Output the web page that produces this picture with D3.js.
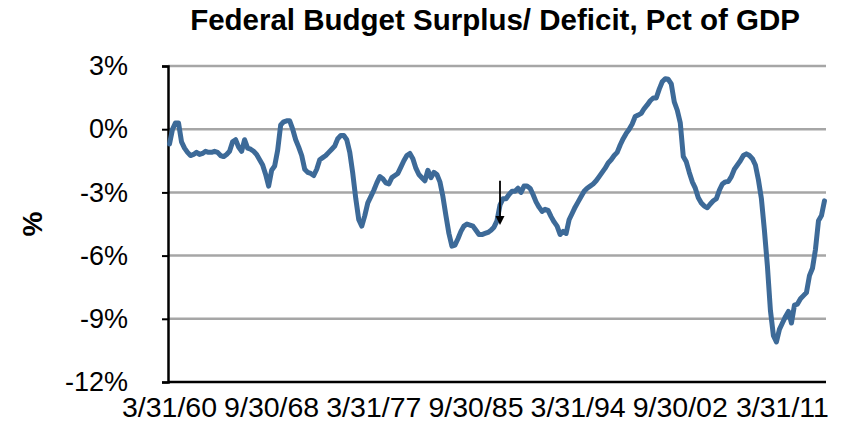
<!DOCTYPE html>
<html><head><meta charset="utf-8">
<script src="https://cdn.jsdelivr.net/npm/d3@7"></script>
<style>
html,body{margin:0;padding:0;background:#fff;}
svg{display:block;font-family:"Liberation Sans",Arial,sans-serif;}
</style></head>
<body><svg id="c" width="859" height="424"></svg>
<script>
// Quarterly federal budget surplus/deficit, % of GDP, 1960Q1 .. 2014Q3
const deficitPct = [
-0.7,0.0,0.3,0.3,-0.6,-0.9,-1.1,-1.25,-1.2,-1.1,
-1.2,-1.15,-1.05,-1.1,-1.1,-1.05,-1.1,-1.25,-1.3,-1.2,
-1.05,-0.6,-0.5,-0.85,-1.05,-0.5,-0.9,-0.95,-1.05,-1.2,
-1.45,-1.7,-2.15,-2.7,-1.95,-1.75,-1.0,0.2,0.35,0.4,
0.4,0.0,-0.5,-0.85,-1.25,-1.9,-2.05,-2.1,-2.2,-1.9,
-1.45,-1.35,-1.25,-1.1,-0.95,-0.8,-0.45,-0.3,-0.3,-0.5,
-1.1,-2.1,-3.3,-4.3,-4.6,-4.1,-3.5,-3.2,-2.9,-2.55,
-2.25,-2.35,-2.55,-2.6,-2.3,-2.2,-2.1,-1.8,-1.5,-1.25,
-1.15,-1.4,-1.85,-2.15,-2.3,-2.45,-1.95,-2.3,-2.05,-2.15,
-2.5,-3.2,-4.1,-4.95,-5.55,-5.5,-5.2,-4.85,-4.6,-4.5,
-4.55,-4.6,-4.8,-5.0,-5.0,-4.95,-4.9,-4.8,-4.65,-4.35,
-3.6,-3.3,-3.3,-3.1,-2.95,-2.95,-2.8,-3.0,-2.7,-2.7,
-2.8,-3.1,-3.45,-3.7,-3.9,-3.8,-3.85,-4.15,-4.4,-4.6,
-5.0,-4.85,-4.95,-4.3,-4.0,-3.7,-3.45,-3.2,-2.95,-2.8,
-2.7,-2.6,-2.45,-2.25,-2.05,-1.85,-1.6,-1.45,-1.25,-1.1,
-0.75,-0.45,-0.2,0.0,0.25,0.6,0.67,0.75,0.98,1.15,
1.35,1.48,1.48,1.9,2.25,2.4,2.37,2.15,1.3,0.9,
0.3,-1.3,-1.55,-2.05,-2.5,-2.8,-3.25,-3.5,-3.65,-3.73,
-3.55,-3.4,-3.3,-2.9,-2.6,-2.5,-2.48,-2.25,-1.9,-1.7,
-1.5,-1.25,-1.17,-1.25,-1.4,-1.7,-2.4,-3.3,-4.8,-6.5,
-8.6,-9.8,-10.1,-9.5,-9.2,-8.9,-8.65,-9.2,-8.35,-8.3,
-8.05,-7.9,-7.75,-6.95,-6.6,-5.7,-4.35,-4.1,-3.4
];
const xTickIndex = [0,34,68,102,136,170,204];
const xTickLabels = ["3/31/60","9/30/68","3/31/77","9/30/85","3/31/94","9/30/02","3/31/11"];
const yTicks = [3,0,-3,-6,-9,-12];
const arrowIndex = 110;
const arrowFrom = -2.45, arrowTo = -4.55;
const titleText = "Federal Budget Surplus/ Deficit, Pct of GDP";
const yTitle = "%";

(function(){
const svg = d3.select("#c");
const L = 168, R = 826, T = 66, B = 382;

const x = d3.scalePoint().domain(d3.range(deficitPct.length)).range([L, R]).padding(0.5);
const y = d3.scaleLinear().domain([-12, 3]).range([B, T]);

// gridlines
svg.append("g").selectAll("line").data(yTicks.filter(d => d > -12)).join("line")
  .attr("x1", L).attr("x2", R)
  .attr("y1", d => y(d)).attr("y2", d => y(d))
  .attr("stroke", "#a6a6a6").attr("stroke-width", 2.5);

// y axis
const yAxis = svg.append("g").attr("transform", `translate(${L},0)`)
  .call(d3.axisLeft(y).tickValues(yTicks).tickFormat(d => d + "%").tickSize(6).tickPadding(34));
yAxis.select(".domain").attr("stroke", "#000").attr("stroke-width", 2.5);
yAxis.selectAll(".tick line").attr("stroke", "#000").attr("stroke-width", 2);
yAxis.selectAll(".tick text").attr("font-size", 27).attr("fill", "#000")
  .attr("font-family", "'Liberation Sans',Arial,sans-serif");

// x axis baseline
svg.append("line").attr("x1", L).attr("x2", R).attr("y1", y(-12)).attr("y2", y(-12))
  .attr("stroke", "#000").attr("stroke-width", 2.5);

// x labels
svg.append("g").selectAll("text").data(xTickIndex).join("text")
  .attr("x", d => x(d)).attr("y", 417)
  .attr("text-anchor", "middle").attr("font-size", 28.5).attr("fill", "#000")
  .text((d, i) => xTickLabels[i]);

// line
svg.append("path").datum(deficitPct)
  .attr("fill", "none").attr("stroke", "#3d6a98").attr("stroke-width", 5)
  .attr("stroke-linejoin", "round").attr("stroke-linecap", "round")
  .attr("d", d3.line().x((d, i) => x(i)).y(d => y(d)));

// arrow annotation
const ax = x(arrowIndex);
svg.append("line").attr("x1", ax).attr("x2", ax)
  .attr("y1", y(arrowFrom)).attr("y2", y(arrowTo) - 8)
  .attr("stroke", "#000").attr("stroke-width", 1.8);
svg.append("path")
  .attr("d", `M${ax-4.5},${y(arrowTo)-9} L${ax+4.5},${y(arrowTo)-9} L${ax},${y(arrowTo)} Z`)
  .attr("fill", "#000");

// title
svg.append("text").attr("x", 495).attr("y", 30).attr("text-anchor", "middle")
  .attr("font-size", 29.5).attr("font-weight", "bold").attr("fill", "#000").text(titleText);

// y title
svg.append("text").attr("transform", "translate(42,224) rotate(-90)")
  .attr("text-anchor", "middle").attr("font-size", 28).attr("font-weight", "bold")
  .attr("fill", "#000").text(yTitle);
})();
</script>
</body></html>
